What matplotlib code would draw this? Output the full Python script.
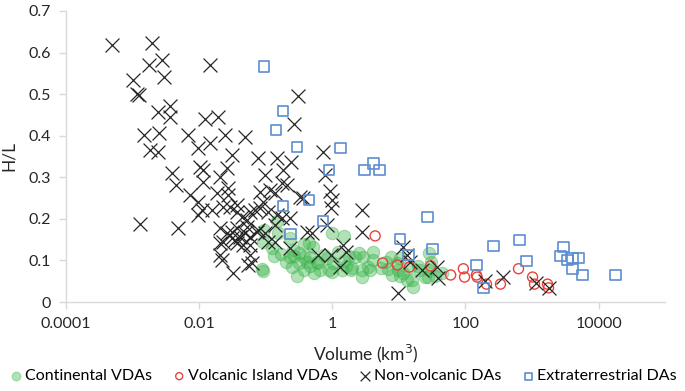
import matplotlib
matplotlib.use("Agg")
import matplotlib.pyplot as plt
from matplotlib.ticker import FixedLocator, FixedFormatter, NullLocator

# Continental VDAs
cont_vol = [0.15, 0.095, 0.155, 0.091, 0.126, 0.135, 0.089, 0.091, 0.23, 0.26,
            0.27, 0.32, 0.37, 0.45, 0.52, 0.37, 0.32, 0.25, 0.30, 0.37,
            0.54, 0.47, 0.59, 0.84, 1.0, 1.5, 0.90, 1.4, 1.04, 1.5,
            1.8, 2.2, 2.5, 2.8, 3.4, 4.1, 4.1, 3.7, 2.8, 2.0,
            6.9, 8.0, 10.5, 13.4, 16.5, 14.9, 19.6, 27, 9.5, 7.5,
            10.5, 11.7, 16, 28, 30, 28, 45, 21, 9.8, 2.9,
            0.76, 0.62, 0.47, 0.23, 1.0, 1.9, 35, 25, 0.17, 6.3,
            5.3, 1.23, 0.66, 0.41, 1.6, 0.20]
cont_hl = [0.195, 0.173, 0.166, 0.145, 0.130, 0.111, 0.080, 0.075, 0.154, 0.125,
           0.111, 0.118, 0.140, 0.142, 0.133, 0.108, 0.094, 0.084, 0.063, 0.077,
           0.070, 0.087, 0.096, 0.106, 0.166, 0.159, 0.077, 0.077, 0.094, 0.099,
           0.111, 0.108, 0.118, 0.077, 0.084, 0.120, 0.101, 0.077, 0.060, 0.082,
           0.080, 0.065, 0.063, 0.053, 0.036, 0.084, 0.087, 0.060, 0.094, 0.108,
           0.106, 0.070, 0.053, 0.118, 0.096, 0.077, 0.070, 0.077, 0.077, 0.108,
           0.113, 0.094, 0.108, 0.108, 0.072, 0.077, 0.063, 0.060, 0.116, 0.096,
           0.082, 0.120, 0.077, 0.096, 0.087, 0.096]

# Volcanic Island VDAs
isl_vol = [4.4, 5.7, 9.5, 14.4, 30, 60, 93, 97, 146, 150,
           207, 336, 627, 1020, 1090, 1710, 1770]
isl_hl = [0.159, 0.094, 0.089, 0.084, 0.087, 0.065, 0.080, 0.060, 0.065, 0.060,
          0.043, 0.043, 0.080, 0.060, 0.043, 0.043, 0.034]

# Non-volcanic DAs
nonv_vol = [0.00049, 0.00196, 0.00177, 0.00278, 0.00298, 0.00102, 0.00117, 0.00125, 0.0146, 0.00242,
            0.00366, 0.00366, 0.00149, 0.0025, 0.00183, 0.00242, 0.0123, 0.0193, 0.00684, 0.00966,
            0.0146, 0.0246, 0.0492, 0.308, 0.268, 0.0313, 0.0771, 0.149, 0.242, 0.183,
            0.0264, 0.732, 0.785, 0.933, 0.0207, 0.0115, 0.0115, 0.00393, 0.00451, 0.0273,
            0.0983, 0.0827, 0.117, 0.139, 0.211, 0.330, 0.00732, 0.0013, 0.00483, 0.00966,
            0.0111, 0.00966, 0.0187, 0.0273, 0.0292, 0.0373, 0.0443, 0.0207, 0.0264, 0.0313,
            0.023, 0.0373, 0.0207, 0.0222, 0.0325, 0.0527, 0.0492, 0.0546, 0.0104, 0.0157,
            0.023, 0.0373, 0.0585, 0.0827, 0.149, 0.0313, 0.0373, 0.0348, 0.0414, 0.0527,
            0.0585, 0.0459, 0.0585, 0.0745, 0.0983, 0.139, 0.109, 0.0585, 0.0627, 0.0207,
            0.177, 0.0917, 0.109, 0.234, 0.0771, 0.421, 0.5, 0.139, 0.234, 0.366,
            1.0, 0.966, 0.0695, 0.84, 2.83, 2.83, 1.46, 1.62, 0.616, 0.966,
            1.32, 11.7, 13.4, 14.9, 22.6, 37.9, 39.3, 9.8, 200, 373,
            1130, 1770, 0.177]
nonv_hl = [0.619, 0.624, 0.571, 0.581, 0.542, 0.535, 0.501, 0.499, 0.569, 0.458,
           0.472, 0.446, 0.402, 0.407, 0.366, 0.361, 0.439, 0.446, 0.402, 0.371,
           0.383, 0.402, 0.398, 0.496, 0.427, 0.354, 0.347, 0.347, 0.337, 0.318,
           0.323, 0.361, 0.306, 0.267, 0.301, 0.318, 0.289, 0.311, 0.282, 0.275,
           0.306, 0.265, 0.270, 0.263, 0.282, 0.253, 0.258, 0.188, 0.178, 0.241,
           0.222, 0.210, 0.263, 0.258, 0.229, 0.217, 0.205, 0.178, 0.166, 0.154,
           0.145, 0.142, 0.113, 0.101, 0.070, 0.198, 0.166, 0.089, 0.325, 0.222,
           0.229, 0.234, 0.217, 0.227, 0.210, 0.169, 0.178, 0.149, 0.157, 0.181,
           0.157, 0.137, 0.137, 0.169, 0.166, 0.186, 0.145, 0.113, 0.094, 0.142,
           0.202, 0.241, 0.217, 0.202, 0.173, 0.169, 0.166, 0.145, 0.130, 0.251,
           0.246, 0.227, 0.222, 0.186, 0.222, 0.169, 0.137, 0.120, 0.113, 0.113,
           0.084, 0.133, 0.113, 0.096, 0.077, 0.084, 0.058, 0.022, 0.051, 0.060,
           0.046, 0.034, 0.287]

# Extraterrestrial DAs
ext_vol = [0.095, 0.183, 0.144, 0.298, 1.32, 0.90, 3.03, 4.14, 5.09, 0.183,
           0.451, 0.732, 0.234, 26.8, 10.5, 31.9, 13.9, 264, 146, 187,
           649, 827, 2977, 2683, 3420, 4064, 5003, 4064, 5745, 18020]
ext_hl = [0.566, 0.460, 0.414, 0.373, 0.371, 0.318, 0.318, 0.333, 0.318, 0.231,
          0.246, 0.195, 0.164, 0.205, 0.152, 0.128, 0.113, 0.135, 0.089, 0.034,
          0.149, 0.099, 0.133, 0.111, 0.101, 0.106, 0.106, 0.080, 0.065, 0.065]

x_ticks = [0.0001, 0.01, 1, 100, 10000]
x_labels = ["0.0001", "0.01", "1", "100", "10000"]
y_ticks = [0, 0.1, 0.2, 0.3, 0.4, 0.5, 0.6, 0.7]
y_labels = ["0", "0.1", "0.2", "0.3", "0.4", "0.5", "0.6", "0.7"]

plt.rcParams["font.family"] = ["Lato", "DejaVu Sans"]

fig = plt.figure(figsize=(6.85, 3.91), dpi=100)
ax = fig.add_axes([0.0964, 0.2276, 0.8746, 0.7444])

ax.scatter(cont_vol, cont_hl, s=80, marker="o", color="#3cb44b", alpha=0.4,
           linewidths=0.8, label="Continental VDAs", zorder=2)
ax.scatter(isl_vol, isl_hl, s=52, marker="o", facecolors="none",
           edgecolors="#e8433a", linewidths=1.0, label="Volcanic Island VDAs", zorder=3)
ax.scatter(nonv_vol, nonv_hl, s=100, marker="x", color="#262626",
           linewidths=0.9, label="Non-volcanic DAs", zorder=4)
ax.scatter(ext_vol, ext_hl, s=56, marker="s", facecolors="none",
           edgecolors="#5b8ed0", linewidths=1.2, label="Extraterrestrial DAs", zorder=5)

ax.set_xscale("log")
ax.set_xlim(1e-4, 1e5)
ax.set_ylim(0, 0.7)
ax.xaxis.set_major_locator(FixedLocator(x_ticks))
ax.xaxis.set_major_formatter(FixedFormatter(x_labels))
ax.xaxis.set_minor_locator(NullLocator())
ax.yaxis.set_major_locator(FixedLocator(y_ticks))
ax.yaxis.set_major_formatter(FixedFormatter(y_labels))

for side in ["top", "right"]:
    ax.spines[side].set_visible(False)
for side in ["left", "bottom"]:
    ax.spines[side].set_color("#d9d9d9")
    ax.spines[side].set_linewidth(1.0)
ax.tick_params(axis="both", colors="#d9d9d9", length=5, width=1.0,
               labelcolor="#262626", labelsize=11.5, pad=6)

ax.set_xlabel("Volume (km$^3$)", fontsize=12.5, color="#262626", labelpad=8)
ax.set_ylabel("H/L", fontsize=12.5, color="#262626", labelpad=8)

fig.legend(loc="lower center", bbox_to_anchor=(0.5, -0.005), ncol=4, frameon=False,
           fontsize=11.5, handletextpad=0.05, columnspacing=1.2, handlelength=1.0,
           markerscale=0.7, borderaxespad=0.2)

fig.savefig("out.png", dpi=100)
